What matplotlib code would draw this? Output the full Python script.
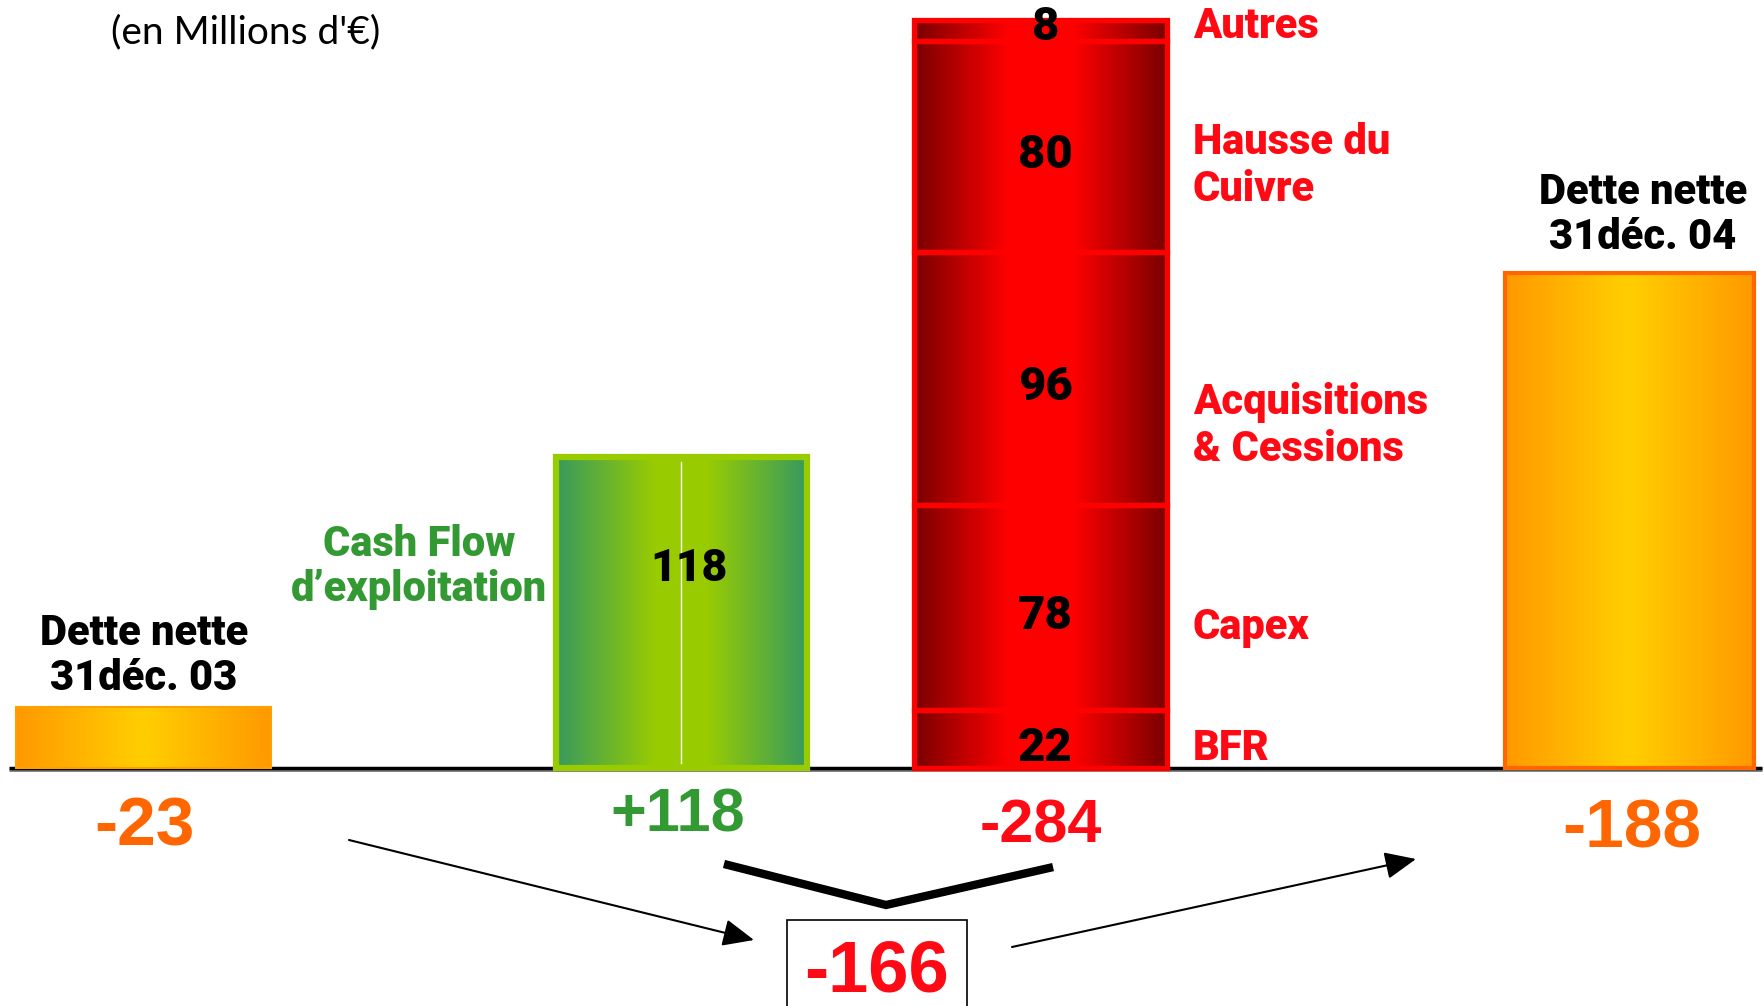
import numpy as np
import matplotlib.pyplot as plt
from matplotlib.colors import LinearSegmentedColormap
from matplotlib.patches import Rectangle
from matplotlib.lines import Line2D

# values in millions of euros
debt_start = 23
cash_flow = 118
use_labels = ['BFR', 'Capex', 'Acquisitions\n& Cessions', 'Hausse du\nCuivre', 'Autres']
use_values = [22, 78, 96, 80, 8]
debt_end = 188
start_label = 'Dette nette\n31déc. 03'
end_label = 'Dette nette\n31déc. 04'
cf_label = 'Cash Flow\nd’exploitation'
unit_label = "(en Millions d'€)"

# layout (pixels)
W, H = 1765, 1006
base = 768          # baseline, from top
ppu = 2.635         # pixels per million
centres = [143.5, 681.5, 1040.5, 1629.5]
widths = [255, 251, 253, 249]
side_y = [749, 627, 426, 166, 27]   # side labels of the uses bar

HEAD = ['Roboto', 'DejaVu Sans']
NUM = ['Liberation Sans', 'DejaVu Sans']
ORANGE = '#FF6600'
GREEN = '#339933'
RED = '#FF0A14'

fig = plt.figure(figsize=(W / 100, H / 100), dpi=100)
ax = fig.add_axes([0, 0, 1, 1])
ax.axis('off')


def grad_bar(i, y0, y1, edge, centre, flat, ec, lw):
    x0 = centres[i] - widths[i] / 2
    x1 = centres[i] + widths[i] / 2
    t = 1 - np.abs(np.linspace(-1, 1, 400))
    cmap = LinearSegmentedColormap.from_list('g', [(0, edge), (1 - flat, centre), (1, centre)])
    ax.imshow(t[None, :], cmap=cmap, extent=(x0, x1, y0, y1), aspect='auto',
              interpolation='bilinear', zorder=2)
    ax.add_patch(Rectangle((x0, y0), x1 - x0, y1 - y0, fill=False, ec=ec, lw=lw, zorder=3))


def ftext(x, y, s, **kw):
    kw.setdefault('ha', 'center')
    kw.setdefault('va', 'center')
    return fig.text(x / W, 1 - y / H, s, **kw)


# bars
grad_bar(0, 0, debt_start, '#FF9900', '#FFCC00', 0.05, '#FFA000', 1.5)
grad_bar(1, 0, cash_flow, '#379A5E', '#99CC00', 0.2, '#99CC00', 4.5)
ax.plot([centres[1], centres[1]], [2, cash_flow - 2], color='white', lw=1, zorder=4)
bottom = 0
for v in use_values:
    grad_bar(2, bottom, bottom + v, '#7A0000', '#FF0000', 0.25, '#FF0000', 3.8)
    bottom += v
grad_bar(3, 0, debt_end, '#FF9900', '#FFCC00', 0.05, ORANGE, 3)

ax.set_xlim(0, W)
ax.set_ylim(-(H - base) / ppu, base / ppu)

# baseline with shadow
ax.plot([9, 1762], [-0.9, -0.9], color='#777777', lw=2, zorder=1, solid_capstyle='butt')
ax.plot([9, 1762], [0, 0], color='black', lw=2.5, zorder=1, solid_capstyle='butt')

# values inside bars
ax.text(centres[1] + 7, cash_flow * 0.64, str(cash_flow), ha='center', va='center',
        fontsize=32, fontweight='black', family=HEAD, zorder=5)
bottom = 0
for v in use_values:
    mid = bottom + v / 2 - 3.5
    if v < 10:
        mid = bottom + v - 2.7
    ax.text(centres[2] + 5, mid, str(v), ha='center', va='center', fontsize=34,
            fontweight='black', family=HEAD, zorder=5)
    bottom += v

# side labels
for lab, y in zip(use_labels, side_y):
    ftext(1193, y, lab, ha='left', color=RED, fontsize=30, fontweight='black',
          family=HEAD, linespacing=1.2)

ftext(246, 32, unit_label, fontsize=28, family=['Lato', 'DejaVu Sans'])
ftext(144, 656, start_label, fontsize=30, fontweight='black', family=HEAD, linespacing=1.15)
ftext(1643, 215, end_label, fontsize=30, fontweight='black', family=HEAD, linespacing=1.15)
ftext(419, 567, cf_label, color=GREEN, fontsize=30, fontweight='black', family=HEAD,
      linespacing=1.15)

# totals under the bars
net = cash_flow - sum(use_values)
ftext(144, 827, f'-{debt_start}', color=ORANGE, fontsize=50, fontweight='bold', family=NUM)
ftext(678, 816, f'+{cash_flow}', color=GREEN, fontsize=44, fontweight='bold', family=NUM)
ftext(1041, 827, f'-{sum(use_values)}', color=RED, fontsize=44, fontweight='bold', family=NUM)
ftext(1632, 830, f'-{debt_end}', color=ORANGE, fontsize=50, fontweight='bold', family=NUM)
ftext(877, 972, f'{net}', color=RED, fontsize=52, fontweight='bold', family=NUM,
      bbox=dict(boxstyle='square,pad=0.25', fc='white', ec='black', lw=1.2))

# connector lines
fig.add_artist(Line2D(np.array([728, 886, 1049]) / W, 1 - np.array([865, 905, 868]) / H,
                      color='black', lw=6, solid_joinstyle='miter'))
arrow = dict(arrowstyle='-|>,head_length=0.8,head_width=0.35', lw=1.5, color='black',
             mutation_scale=24, shrinkA=0, shrinkB=0)
ax.annotate('', xy=(754, H - 940), xytext=(349, H - 840), xycoords='figure pixels',
            textcoords='figure pixels', arrowprops=arrow)
ax.annotate('', xy=(1416, H - 859), xytext=(1012, H - 947), xycoords='figure pixels',
            textcoords='figure pixels', arrowprops=arrow)

fig.savefig('out.png', dpi=100)
